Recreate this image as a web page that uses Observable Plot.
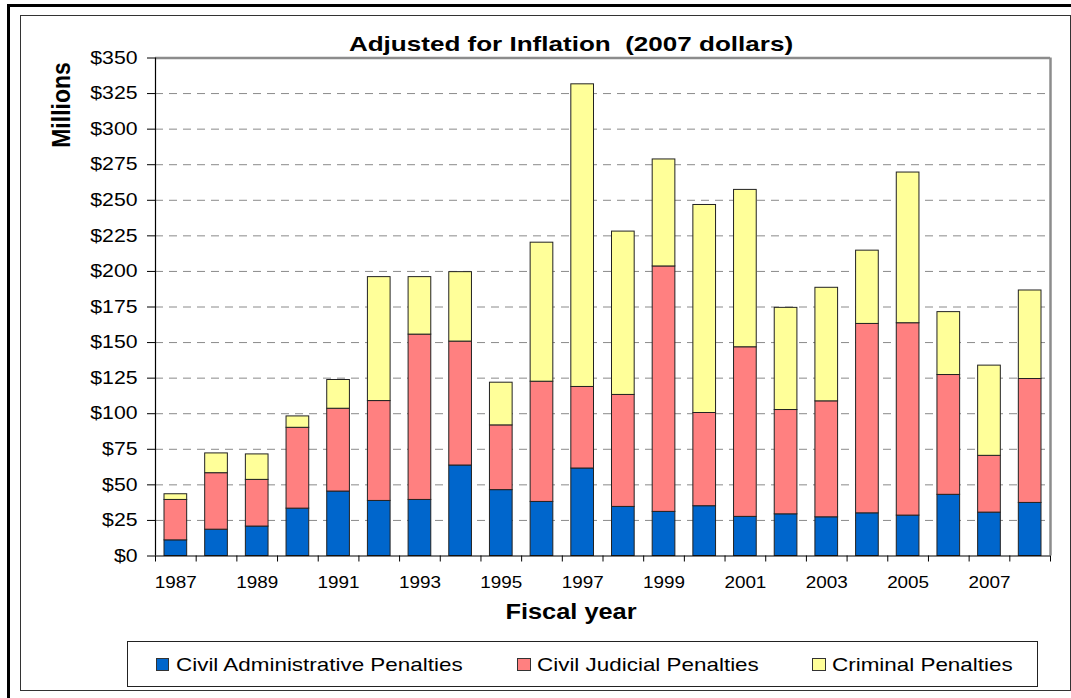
<!DOCTYPE html>
<html>
<head>
<meta charset="utf-8">
<script src="https://cdn.jsdelivr.net/npm/d3@7"></script>
<script src="https://cdn.jsdelivr.net/npm/@observablehq/plot@0.6"></script>
<style>
  html, body { margin: 0; padding: 0; background: #fff; }
  body { width: 1071px; height: 698px; overflow: hidden; position: relative; font-family: "Liberation Sans", Arial, sans-serif; color: #000; }
  #outer { position: absolute; left: 7px; top: 4px; width: 1200px; height: 800px; border-top: 3px solid #000; border-left: 3px solid #000; }
  #frame { position: absolute; left: 20px; top: 15px; width: 1049px; height: 674px; border: 1px solid #333; }
  #chart { position: absolute; left: 0; top: 0; }
  .t { position: absolute; white-space: pre; line-height: 1; }
  #title { left: 571px; top: 32.5px; font-weight: bold; font-size: 21px; transform: translateX(-50%) scaleX(1.24); }
  #xlabel { left: 570.5px; top: 602px; font-weight: bold; font-size: 21.5px; transform: translateX(-50%) scaleX(1.18); }
  #ylabel { left: 60.5px; top: 105px; font-weight: bold; font-size: 23px; transform: translate(-50%, -50%) rotate(-90deg) scaleY(1.15); }
  #legend { position: absolute; left: 126.5px; top: 640.5px; width: 909px; height: 44px; border: 1px solid #222; background: #fff; }
  .sw { position: absolute; width: 11.5px; height: 11.5px; border: 1px solid #333; top: 657.5px; }
  .lt { position: absolute; top: 654.5px; font-size: 19px; line-height: 1; white-space: pre; transform-origin: left center; transform: scaleX(1.18); }
</style>
</head>
<body>
<div id="outer"></div>
<div id="frame"></div>
<div id="chart"></div>
<div id="legend"></div>
<div id="title" class="t">Adjusted for Inflation  (2007 dollars)</div>
<div id="xlabel" class="t">Fiscal year</div>
<div id="ylabel" class="t">Millions</div>
<script>
// ---- Data (millions of 2007 dollars) ----
const years = [1987, 1988, 1989, 1990, 1991, 1992, 1993, 1994, 1995, 1996, 1997,
               1998, 1999, 2000, 2001, 2002, 2003, 2004, 2005, 2006, 2007, 2008];
const civilAdministrative = [11.0, 18.5, 20.7, 33.3, 45.3, 38.7, 39.4, 63.6, 46.3, 38.0, 61.5,
                             34.5, 31.0, 35.0, 27.5, 29.3, 27.2, 30.0, 28.4, 43.0, 30.5, 37.3];
const civilJudicial = [28.4, 39.7, 32.8, 56.8, 58.2, 70.2, 116.2, 87.1, 45.5, 84.5, 57.3,
                       78.7, 172.5, 65.5, 119.2, 73.3, 81.5, 133.1, 135.2, 84.2, 39.9, 87.1];
const criminal = [4.0, 13.9, 17.9, 8.0, 20.2, 87.1, 40.4, 48.8, 30.0, 97.7, 212.7,
                  114.8, 75.2, 146.2, 110.6, 71.8, 79.8, 51.5, 105.9, 44.2, 63.4, 62.2];
const seriesNames = ["Civil Administrative Penalties", "Civil Judicial Penalties", "Criminal Penalties"];
const seriesColors = ["#0066CC", "#FF8080", "#FFFF99"];
const yTicks = [0, 25, 50, 75, 100, 125, 150, 175, 200, 225, 250, 275, 300, 325, 350];
const xTickLabels = [1987, 1989, 1991, 1993, 1995, 1997, 1999, 2001, 2003, 2005, 2007];

// ---- Build stacked table ----
const seriesValues = [civilAdministrative, civilJudicial, criminal];
const table = [];
years.forEach((yr, i) => {
  let base = 0;
  seriesValues.forEach((vals, s) => {
    table.push({year: yr, series: seriesNames[s], y1: base, y2: base + vals[i]});
    base += vals[i];
  });
});
const gridTicks = yTicks.slice(1, -1);
const yMax = yTicks[yTicks.length - 1];
const xLo = years[0] - 0.5, xHi = years[years.length - 1] + 0.5;
const boundaries = years.map(y => y - 0.5).concat([xHi]);

const chart = Plot.plot({
  width: 1071,
  height: 600,
  marginTop: 57.5,
  marginBottom: 44.5,
  marginLeft: 155,
  marginRight: 21,
  style: {fontFamily: '"Liberation Sans", Arial, sans-serif', background: "transparent", color: "#000", overflow: "visible"},
  x: {domain: [xLo, xHi]},
  y: {domain: [0, yMax]},
  color: {domain: seriesNames, range: seriesColors},
  marks: [
    Plot.ruleY(gridTicks, {stroke: "#8a8a8a", strokeWidth: 1, strokeDasharray: "8,6"}),
    Plot.rect(table, {
      x1: d => d.year - 0.5, x2: d => d.year + 0.5,
      y1: "y1", y2: "y2",
      fill: "series", stroke: "#222", strokeWidth: 1,
      insetLeft: 9, insetRight: 9
    }),
    Plot.ruleY([yMax], {stroke: "#8c8c8c", strokeWidth: 2.5}),
    Plot.ruleX([xHi], {stroke: "#8c8c8c", strokeWidth: 2.5}),
    Plot.ruleX([xLo], {stroke: "#000", strokeWidth: 1.2}),
    Plot.ruleY([0], {stroke: "#000", strokeWidth: 1.2}),
    Plot.axisY({ticks: yTicks, tickSize: 8, tickPadding: 10, tickFormat: d => "$" + d, fontSize: 18, label: null}),
    Plot.axisX({ticks: boundaries, tickSize: 6, tickFormat: () => "", label: null}),
    Plot.axisX({ticks: xTickLabels, tickSize: 0, tickPadding: 21, tickFormat: d => String(d), fontSize: 16, label: null})
  ]
});
document.getElementById("chart").appendChild(chart);
chart.querySelectorAll("text").forEach(t => {
  const tr = t.getAttribute("transform");
  if (tr && tr.indexOf("translate") >= 0) t.setAttribute("transform", tr + " scale(1.18,1)");
});

// ---- Legend ----
const legendSwatchX = [155.7, 517, 812];
const legendTextX = [175.7, 537, 832];
seriesNames.forEach((name, i) => {
  const sw = document.createElement("div");
  sw.className = "sw";
  sw.style.left = legendSwatchX[i] + "px";
  sw.style.background = seriesColors[i];
  document.body.appendChild(sw);
  const tx = document.createElement("div");
  tx.className = "lt";
  tx.style.left = legendTextX[i] + "px";
  tx.textContent = name;
  document.body.appendChild(tx);
});
</script>
</body>
</html>
